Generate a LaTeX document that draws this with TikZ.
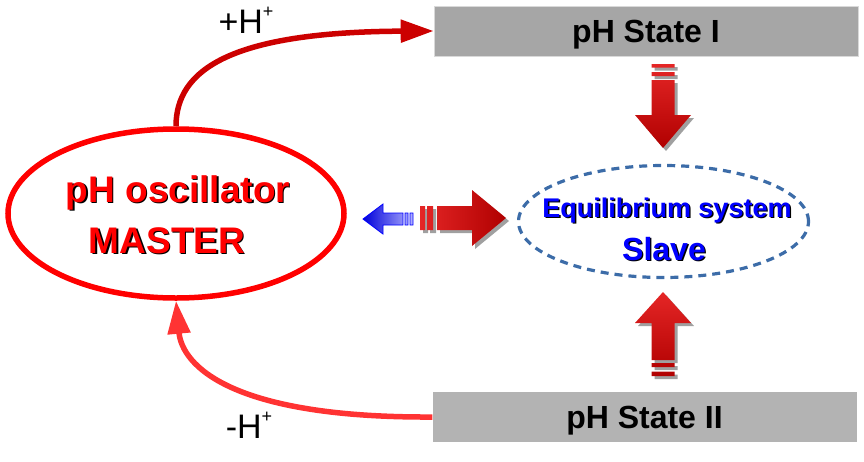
\documentclass[tikz,border=0pt]{standalone}
\usepackage{fontspec}
\setmainfont{Liberation Sans}
\usetikzlibrary{shapes.geometric,arrows.meta}
\definecolor{curveup}{HTML}{CC0000}
\definecolor{curvedown}{HTML}{FF3333}
\definecolor{slaveblue}{HTML}{3C6CA8}
\definecolor{stateone}{HTML}{A6A6A6}
\definecolor{statetwo}{HTML}{B3B3B3}
\definecolor{redlight}{HTML}{E52626}
\definecolor{reddark}{HTML}{B00000}
\definecolor{shadowgray}{HTML}{A0A0A0}
\newcommand{\shtxt}[2]{\makebox[0pt][l]{\hspace{1.3pt}\raisebox{-1.3pt}{\color{black}#2}}{\color{#1}#2}}
\newcommand{\fsz}[1]{\fontsize{#1}{#1}\selectfont}
\newcommand{\supplus}{\raisebox{0.45em}{\fontsize{18}{18}\selectfont+}}
\begin{document}
\begin{tikzpicture}[x=1pt,y=-1pt,
	master/.style={ellipse,draw=red,line width=5.5pt,minimum width=336pt,minimum height=169pt},
	slave/.style={ellipse,draw=slaveblue,line width=3.2pt,dash pattern=on 8pt off 6pt,minimum width=290pt,minimum height=112pt},
	state/.style={rectangle,minimum width=424pt,minimum height=50pt,text height=22pt,text depth=0pt,font=\bfseries\fsz{32}},
	flow/.style={line width=5.5pt,-{Triangle[length=33pt,width=22pt]}},
	arrdown/.style={insert path={(651.5,80) -- (674.5,80) -- (674.5,115) -- (691,115) -- (663,148) -- (635,115) -- (651.5,115) -- cycle
		(651.5,64) rectangle (674.5,67.5) (651.5,72) rectangle (674.5,76)}},
	arrup/.style={insert path={(651.5,360) -- (674.5,360) -- (674.5,323) -- (691,323) -- (663,292) -- (635,323) -- (651.5,323) -- cycle
		(651.5,363) rectangle (674.5,367) (651.5,371.5) rectangle (674.5,376)}},
	arrright/.style={insert path={(437,206) -- (472,206) -- (472,190) -- (506,218) -- (472,246) -- (472,230) -- (437,230) -- cycle
		(420,206) rectangle (425,230) (427,206) rectangle (433,230)}}]
	\useasboundingbox (0,0) rectangle (864,461);
	\node[master] (osc) at (176,213.5) {};
	\node[slave] (slv) at (663.5,221.5) {};
	\node[state,fill=stateone,draw=gray!30,line width=0.6pt] (st1) at (646,31) {pH State I};
	\node[state,fill=statetwo] (st2) at (644.5,417) {pH State II};
	\node[anchor=base,font=\bfseries\fsz{37}] (osctxt) at (178,202) {\shtxt{red}{pH oscillator}};
	\node[anchor=base,font=\bfseries\fsz{37}] (mastxt) at (167,253) {\shtxt{red}{MASTER}};
	\node[anchor=base,font=\bfseries\fsz{27}] (eqtxt) at (667,217) {\shtxt{blue}{Equilibrium system}};
	\node[anchor=base,font=\bfseries\fsz{32}] (slvtxt) at (664,260.5) {\shtxt{blue}{Slave}};
	\node[anchor=base,font=\fsz{34}] (plus) at (246,33) {+H\supplus};
	\node[anchor=base,font=\fsz{34}] (minus) at (249,438) {-H\supplus};
	\draw[flow,curveup] (osc.north) .. controls (176,70) and (230,32) .. (st1.west);
	\draw[flow,curvedown] (st2.west) .. controls (230,418) and (182,365) .. (osc.south);
	\foreach \a in {arrdown,arrup,arrright} {
		\fill[shadowgray,shift={(3,3)},\a];
	}
	\shade[top color=redlight,bottom color=reddark,arrdown];
	\shade[top color=redlight,bottom color=reddark,arrup];
	\shade[left color=redlight,right color=reddark,arrright];
	\shade[left color=blue!85!black,right color=blue!30,draw=blue,line width=0.8pt]
		(403,213) -- (383,213) -- (383,204) -- (363,219) -- (383,234) -- (383,225) -- (403,225) -- cycle
		(405,213) rectangle (408,225) (410,213) rectangle (413,225);
\end{tikzpicture}
\end{document}
